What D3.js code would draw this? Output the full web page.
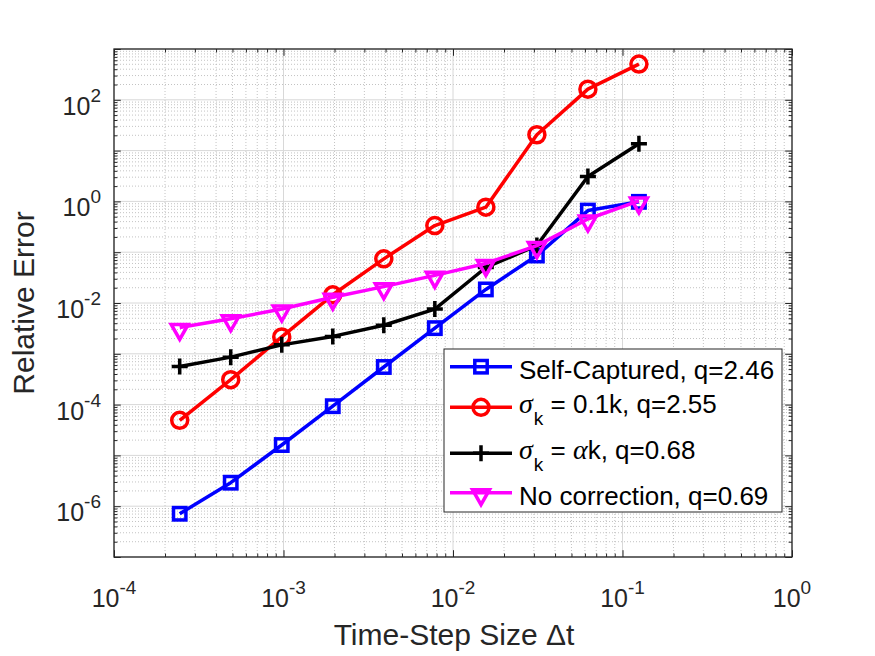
<!DOCTYPE html>
<html><head><meta charset="utf-8">
<script src="https://cdn.jsdelivr.net/npm/d3@7"></script>
<style>body{margin:0;background:#fff}svg{display:block}</style>
</head><body><svg id="c" width="875" height="656"></svg>
<script>
// ---- data ----
const dt = [2**-12, 2**-11, 2**-10, 2**-9, 2**-8, 2**-7, 2**-6, 2**-5, 2**-4, 2**-3];
const selfCaptured = [7.1e-7, 2.9e-6, 1.6e-5, 9.3e-5, 5.5e-4, 3.2e-3, 1.85e-2, 8.6e-2, 0.66, 0.98];
const sigma01k     = [4.9e-5, 3.1e-4, 2.15e-3, 1.45e-2, 7.4e-2, 0.335, 0.77, 20.5, 162, 505];
const sigmaAlphaK  = [5.6e-4, 8.6e-4, 1.5e-3, 2.2e-3, 3.65e-3, 7.6e-3, 5.0e-2, 0.135, 3.1, 13.6];
const noCorrection = [3.3e-3, 4.9e-3, 7.6e-3, 1.3e-2, 2.1e-2, 3.5e-2, 6.0e-2, 0.135, 0.45, 1.02];
const xTickExps = [-4, -3, -2, -1, 0];
const yTickExps = [-6, -4, -2, 0, 2];
const xLabel = "Time-Step Size \u0394t";
const yLabel = "Relative Error";

const series = [
  {values: selfCaptured, color: "#0000ff", marker: "square",
   label: [{t: "Self-Captured, q=2.46"}]},
  {values: sigma01k, color: "#ff0000", marker: "circle",
   label: [{t: "\u03c3", greek: true}, {t: "k", sub: true}, {t: " = 0.1k, q=2.55", unsub: true}]},
  {values: sigmaAlphaK, color: "#000000", marker: "plus",
   label: [{t: "\u03c3", greek: true}, {t: "k", sub: true}, {t: " = ", unsub: true}, {t: "\u03b1", greek: true}, {t: "k, q=0.68"}]},
  {values: noCorrection, color: "#ff00ff", marker: "tri",
   label: [{t: "No correction, q=0.69"}]}
];

// ---- layout ----
const L = 114, R = 792, T = 49, B = 557;
const axisColor = "#262626";
const svg = d3.select("#c");
const x = d3.scaleLog().domain([1e-4, 1]).range([L, R]);
const y = d3.scaleLog().domain([1e-7, 1e3]).range([B, T]);

svg.append("rect").attr("x", L).attr("y", T).attr("width", R - L).attr("height", B - T).attr("fill", "#fff");

function minors(lo, hi) {
  const out = [];
  for (let e = lo; e < hi; e++) for (let m = 2; m <= 9; m++) out.push(m * Math.pow(10, e));
  return out;
}
const xMinor = minors(-4, 0), yMinor = minors(-7, 3);
const xMajor = d3.range(-4, 1).map(e => Math.pow(10, e));
const yMajor = d3.range(-7, 4).map(e => Math.pow(10, e));

const grid = svg.append("g");
grid.selectAll(".xm").data(xMinor).join("line")
  .attr("x1", d => x(d)).attr("x2", d => x(d)).attr("y1", T).attr("y2", B)
  .attr("stroke", "#b4b4b4").attr("stroke-width", 0.8).attr("stroke-dasharray", "1 2");
grid.selectAll(".ym").data(yMinor).join("line")
  .attr("y1", d => y(d)).attr("y2", d => y(d)).attr("x1", L).attr("x2", R)
  .attr("stroke", "#b4b4b4").attr("stroke-width", 0.8).attr("stroke-dasharray", "1 2");
grid.selectAll(".xM").data(xMajor).join("line")
  .attr("x1", d => x(d)).attr("x2", d => x(d)).attr("y1", T).attr("y2", B)
  .attr("stroke", "#d8d8d8").attr("stroke-width", 1);
grid.selectAll(".yM").data(yMajor).join("line")
  .attr("y1", d => y(d)).attr("y2", d => y(d)).attr("x1", L).attr("x2", R)
  .attr("stroke", "#d8d8d8").attr("stroke-width", 1);

function tickAxis(gen, vals, size, transform) {
  svg.append("g").attr("transform", transform)
    .call(gen.tickValues(vals).tickSize(size).tickFormat(""))
    .call(g => g.select(".domain").remove())
    .call(g => g.selectAll("line").attr("stroke", axisColor).attr("stroke-width", 1));
}
tickAxis(d3.axisTop(x), xMajor, 6.8, `translate(0,${B})`);
tickAxis(d3.axisTop(x), xMinor, 3.4, `translate(0,${B})`);
tickAxis(d3.axisBottom(x), xMajor, 6.8, `translate(0,${T})`);
tickAxis(d3.axisBottom(x), xMinor, 3.4, `translate(0,${T})`);
tickAxis(d3.axisRight(y), yMajor, 6.8, `translate(${L},0)`);
tickAxis(d3.axisRight(y), yMinor, 3.4, `translate(${L},0)`);
tickAxis(d3.axisLeft(y), yMajor, 6.8, `translate(${R},0)`);
tickAxis(d3.axisLeft(y), yMinor, 3.4, `translate(${R},0)`);

svg.append("rect").attr("x", L).attr("y", T).attr("width", R - L).attr("height", B - T)
  .attr("fill", "none").attr("stroke", axisColor).attr("stroke-width", 1.3);

const font = "'Liberation Sans', Arial, Helvetica, sans-serif";
xTickExps.forEach(e => {
  const t = svg.append("text").attr("x", x(Math.pow(10, e))).attr("y", 607)
    .attr("text-anchor", "middle").attr("font-family", font).attr("fill", axisColor);
  t.append("tspan").attr("font-size", 25).text("10");
  t.append("tspan").attr("font-size", 19).attr("dy", -13).text(e < 0 ? "-" + (-e) : String(e));
});
yTickExps.forEach(e => {
  const t = svg.append("text").attr("x", 101).attr("y", y(Math.pow(10, e)) + 15)
    .attr("text-anchor", "end").attr("font-family", font).attr("fill", axisColor);
  t.append("tspan").attr("font-size", 25).text("10");
  t.append("tspan").attr("font-size", 19).attr("dy", -13).text(e < 0 ? "-" + (-e) : String(e));
});

svg.append("text").attr("x", (L + R) / 2 + 1).attr("y", 645).attr("text-anchor", "middle")
  .attr("font-family", font).attr("font-size", 30).attr("fill", axisColor).text(xLabel);
svg.append("text").attr("transform", `translate(34,${(T + B) / 2}) rotate(-90)`).attr("text-anchor", "middle")
  .attr("font-family", font).attr("font-size", 30).attr("fill", axisColor).text(yLabel);

const SW = 3.5;
function drawMarker(g, type, cx, cy, color) {
  if (type === "square") {
    g.append("rect").attr("x", cx - 6.2).attr("y", cy - 6.2).attr("width", 12.4).attr("height", 12.4)
      .attr("fill", "none").attr("stroke", color).attr("stroke-width", SW);
  } else if (type === "circle") {
    g.append("circle").attr("cx", cx).attr("cy", cy).attr("r", 8)
      .attr("fill", "none").attr("stroke", color).attr("stroke-width", SW);
  } else if (type === "plus") {
    g.append("path").attr("d", `M${cx - 8},${cy}H${cx + 8}M${cx},${cy - 8}V${cy + 8}`)
      .attr("stroke", color).attr("stroke-width", SW).attr("fill", "none");
  } else if (type === "tri") {
    g.append("path").attr("d", `M${cx - 8.5},${cy - 3}L${cx + 8.5},${cy - 3}L${cx},${cy + 12}Z`)
      .attr("stroke", color).attr("stroke-width", SW).attr("fill", "none").attr("stroke-linejoin", "miter");
  }
}

const line = d3.line().x(d => x(d[0])).y(d => y(d[1]));
series.forEach(s => {
  const g = svg.append("g");
  const pts = dt.map((d, i) => [d, s.values[i]]);
  g.append("path").attr("d", line(pts)).attr("fill", "none").attr("stroke", s.color)
    .attr("stroke-width", SW).attr("stroke-linejoin", "round");
  pts.forEach(p => drawMarker(g, s.marker, x(p[0]), y(p[1]), s.color));
});

const lg = svg.append("g");
const LX0 = 444, LX1 = 782, LY0 = 349, LY1 = 512;
lg.append("rect").attr("x", LX0).attr("y", LY0).attr("width", LX1 - LX0).attr("height", LY1 - LY0)
  .attr("fill", "#fff").attr("stroke", axisColor).attr("stroke-width", 1);
const rowY = [366.7, 407.3, 453.3, 492.7];
series.forEach((s, i) => {
  const ry = rowY[i];
  lg.append("line").attr("x1", 450).attr("x2", 512).attr("y1", ry).attr("y2", ry)
    .attr("stroke", s.color).attr("stroke-width", SW);
  drawMarker(lg, s.marker, 481, ry, s.color);
  const hasSub = s.label.some(p => p.sub);
  const t = lg.append("text").attr("x", 519).attr("y", ry + (hasSub ? 6 : 12.5))
    .attr("font-family", font).attr("font-size", 26).attr("fill", "#000");
  s.label.forEach(p => {
    const sp = t.append("tspan").text(p.t);
    if (p.greek) sp.attr("font-family", "'Liberation Serif', 'Times New Roman', serif").attr("font-style", "italic").attr("font-size", 28);
    if (p.sub) sp.attr("font-size", 19).attr("dy", 12).attr("dx", 1);
    if (p.unsub) sp.attr("dy", -12);
  });
});
</script>
</body></html>
